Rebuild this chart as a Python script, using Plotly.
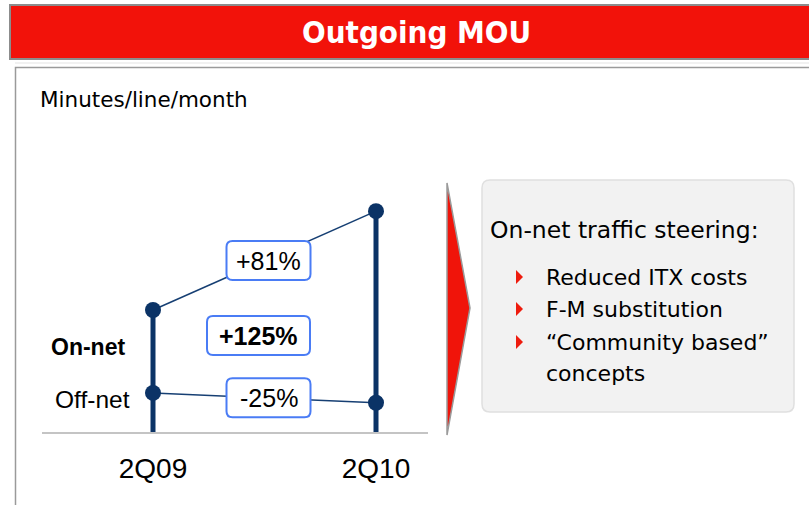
import plotly.graph_objects as go

# ---- data ----
quarters = ["2Q09", "2Q10"]
on_net = [100, 181]
off_net = [32, 24]
series_labels = ["On-net", "Off-net"]
change_labels = ["+81%", "+125%", "-25%"]
title_text = "Outgoing MOU"
unit_text = "Minutes/line/month"
box_title = "On-net traffic steering:"
box_items = ["Reduced ITX costs", "F-M substitution", "\u201cCommunity based\u201d", "concepts"]

W, H = 809, 505
NAVY = "#0b3366"
LINE = "#163f73"
RED = "#f2120a"
BLUE_BORDER = "#4a7cf5"
FONT = "Liberation Sans, Arial, sans-serif"
WIDE = "DejaVu Sans, Verdana, sans-serif"

# plot-area geometry (pixels)
x_left, x_right = 42, 428
x0_px, x1_px = 153, 376
X_SCALE = x1_px - x0_px          # px per x unit
Y_BASE, Y_TOP = 432, 150
Y_SCALE = 1.22                    # px per y unit


def px(x):
    return x / W


def py(y):
    return 1 - y / H


def rounded_path(x0, y0, x1, y1, r):
    a, b, c, d = px(x0), py(y0), px(x1), py(y1)
    rx, ry = r / W, r / H
    return (f"M {a+rx},{b} L {c-rx},{b} Q {c},{b} {c},{b-ry} "
            f"L {c},{d+ry} Q {c},{d} {c-rx},{d} L {a+rx},{d} "
            f"Q {a},{d} {a},{d+ry} L {a},{b-ry} Q {a},{b} {a+rx},{b} Z")


def data_box_path(cx, cy, w_px, h_px, r_px):
    """Rounded rectangle in data coords centred on (cx, cy), sized in pixels."""
    hw, hh = w_px / 2 / X_SCALE, h_px / 2 / Y_SCALE
    rx, ry = r_px / X_SCALE, r_px / Y_SCALE
    a, c = cx - hw, cx + hw
    d, b = cy - hh, cy + hh
    return (f"M {a+rx},{b} L {c-rx},{b} Q {c},{b} {c},{b-ry} "
            f"L {c},{d+ry} Q {c},{d} {c-rx},{d} L {a+rx},{d} "
            f"Q {a},{d} {a},{d+ry} L {a},{b-ry} Q {a},{b} {a+rx},{b} Z")


xs = list(range(len(quarters)))

fig = go.Figure()

# vertical stems (0 -> on-net value)
stem_x, stem_y = [], []
for i, v in zip(xs, on_net):
    stem_x += [i, i, None]
    stem_y += [0, v, None]
fig.add_trace(go.Scatter(x=stem_x, y=stem_y, mode="lines",
                         line=dict(color=NAVY, width=5), hoverinfo="skip"))

# connecting lines
fig.add_trace(go.Scatter(x=xs, y=on_net, mode="lines",
                         line=dict(color=LINE, width=1.5), hoverinfo="skip"))
fig.add_trace(go.Scatter(x=xs, y=off_net, mode="lines",
                         line=dict(color=LINE, width=1.5), hoverinfo="skip"))
# dots
fig.add_trace(go.Scatter(x=xs + xs, y=on_net + off_net, mode="markers",
                         marker=dict(color=NAVY, size=16), hoverinfo="skip"))

annotations = []
shapes = []

# change boxes (rounded)
mid_x = (xs[0] + xs[1]) / 2
box_specs = [
    (change_labels[0], mid_x + 4 / X_SCALE, sum(on_net) / 2, 84, False),
    (change_labels[1], mid_x - 6 / X_SCALE, (on_net[0] + off_net[0]) / 2 + 13, 103, True),
    (change_labels[2], mid_x + 4 / X_SCALE, sum(off_net) / 2, 84, False),
]
for txt, cx, cy, wpx, bold in box_specs:
    shapes.append(dict(type="path", xref="x", yref="y", path=data_box_path(cx, cy, wpx, 39, 6),
                       fillcolor="white", line=dict(color=BLUE_BORDER, width=2), layer="above"))
    annotations.append(dict(x=cx, y=cy, xref="x", yref="y", showarrow=False,
                            xanchor="center", yanchor="middle",
                            text=("<b>" + txt + "</b>") if bold else txt,
                            font=dict(family=FONT, size=25, color="black")))

# series labels
annotations.append(dict(x=xs[0], y=(on_net[0] + off_net[0]) / 2 + 4, xref="x", yref="y",
                        text="<b>" + series_labels[0] + "</b>", showarrow=False,
                        xanchor="right", yanchor="middle", xshift=-26,
                        font=dict(family=FONT, size=23, color="black")))
annotations.append(dict(x=xs[0], y=off_net[0] - 5, xref="x", yref="y",
                        text=series_labels[1], showarrow=False,
                        xanchor="right", yanchor="middle", xshift=-21,
                        font=dict(family=FONT, size=24.5, color="black")))

# title banner
shapes.append(dict(type="rect", xref="paper", yref="paper",
                   x0=px(10), y0=py(59), x1=px(815), y1=py(5),
                   fillcolor=RED, line=dict(color="#8c8c8c", width=2), layer="below"))
annotations.append(dict(x=px(416), y=py(32), xref="paper", yref="paper",
                        text="<b>" + title_text + "</b>", showarrow=False,
                        xanchor="center", yanchor="middle",
                        font=dict(family="Liberation Sans Narrow, DejaVu Sans Condensed, Arial Narrow, sans-serif",
                                  size=31, color="white")))
# panel border
shapes.append(dict(type="rect", xref="paper", yref="paper",
                   x0=px(15.5), y0=py(515), x1=px(820), y1=py(67.5),
                   fillcolor="rgba(0,0,0,0)", line=dict(color="#9a9a9a", width=1.5), layer="below"))
shapes.append(dict(type="line", xref="paper", yref="paper",
                   x0=px(15), y0=py(63), x1=px(820), y1=py(63),
                   line=dict(color="#ececec", width=1.5), layer="below"))

annotations.append(dict(x=px(38), y=py(100), xref="paper", yref="paper",
                        text=unit_text, showarrow=False, xanchor="left", yanchor="middle",
                        font=dict(family=WIDE, size=21.5, color="black")))

# red arrow
arrow_path = (f"M {px(447)},{py(183)} L {px(470)},{py(308)} L {px(447)},{py(435)} Z")
shapes.append(dict(type="path", xref="paper", yref="paper", path=arrow_path,
                   fillcolor="#f0140a", line=dict(color="#9a9a9a", width=1.5)))

# gray box
shapes.append(dict(type="path", xref="paper", yref="paper",
                   path=rounded_path(482, 180, 794, 412, 8),
                   fillcolor="#f2f2f2", line=dict(color="#e0e0e0", width=1.5), layer="below"))
annotations.append(dict(x=px(488), y=py(230), xref="paper", yref="paper",
                        text=box_title, showarrow=False, xanchor="left", yanchor="middle",
                        font=dict(family=WIDE, size=23.5, color="black")))
item_ys = [277, 309, 342, 373]
for k, (txt, yy) in enumerate(zip(box_items, item_ys)):
    annotations.append(dict(x=px(544), y=py(yy), xref="paper", yref="paper",
                            text=txt, showarrow=False, xanchor="left", yanchor="middle",
                            font=dict(family=WIDE, size=22, color="black")))
    if k < 3:
        tri = f"M {px(516)},{py(yy-7)} L {px(523)},{py(yy)} L {px(516)},{py(yy+7)} Z"
        shapes.append(dict(type="path", xref="paper", yref="paper", path=tri,
                           fillcolor="#ee1c0e", line=dict(width=0)))

fig.update_layout(
    width=W, height=H,
    margin=dict(l=0, r=0, t=0, b=0),
    paper_bgcolor="white", plot_bgcolor="white",
    showlegend=False,
    xaxis=dict(domain=[px(x_left), px(x_right)],
               range=[(x_left - x0_px) / X_SCALE, 1 + (x_right - x1_px) / X_SCALE],
               tickvals=xs, ticktext=quarters, showgrid=False, zeroline=False,
               showline=True, linecolor="#c4c4c4", linewidth=2,
               ticks="", ticklabelstandoff=10,
               tickfont=dict(family=FONT, size=28, color="black")),
    yaxis=dict(domain=[py(Y_BASE), py(Y_TOP)], range=[0, (Y_BASE - Y_TOP) / Y_SCALE],
               visible=False, showgrid=False, zeroline=False),
    annotations=annotations,
    shapes=shapes,
)

fig.write_html("out.html", config={"displayModeBar": False},
               post_script="document.body.style.margin='0';")
